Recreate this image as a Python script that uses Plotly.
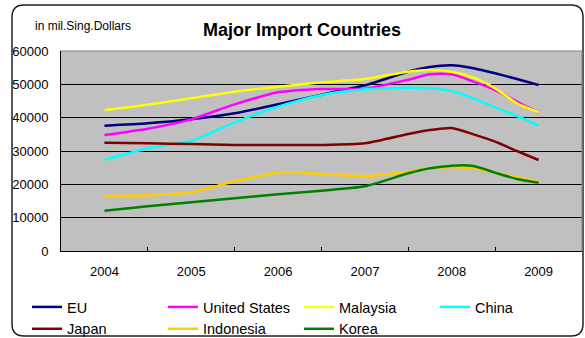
import plotly.graph_objects as go

# ---- data ----
periods = [2004, 2004.5, 2005, 2005.5, 2006, 2006.5, 2007, 2007.5, 2007.75,
           2008, 2008.25, 2008.5, 2008.75, 2009]
year_labels = ["2004", "2005", "2006", "2007", "2008", "2009"]
year_ticks = [2004, 2005, 2006, 2007, 2008, 2009]

eu = [37600, 38300, 39500, 41300, 44000, 46900, 49700, 53800, 55200,
      55700, 54800, 53300, 51600, 49800]
united_states = [34800, 36700, 39500, 44000, 47600, 48600, 48700, 51400, 53000,
                 53000, 50800, 48300, 44800, 41500]
malaysia = [42300, 43900, 45800, 47800, 49300, 50600, 51600, 53800, 54300,
            53800, 52000, 48800, 44300, 41600]
china = [27300, 30800, 33000, 38600, 43300, 46800, 48500, 49000, 48800,
         48000, 45800, 43100, 40500, 37600]
japan = [32500, 32300, 32100, 31800, 31800, 31800, 32300, 35100, 36300,
         36900, 35000, 32800, 30000, 27300]
indonesia = [16500, 16700, 17600, 20900, 23500, 23100, 22500, 23800, 24800,
             25100, 24800, 23500, 22100, 20800]
korea = [12100, 13400, 14600, 15800, 17000, 18100, 19400, 23300, 24800,
         25600, 25500, 23500, 21600, 20500]

series = [
    ("EU", eu, "#000080"),
    ("United States", united_states, "#FF00FF"),
    ("Malaysia", malaysia, "#FFFF00"),
    ("China", china, "#00FFFF"),
    ("Japan", japan, "#800000"),
    ("Indonesia", indonesia, "#FFCC00"),
    ("Korea", korea, "#008000"),
]

FONT = "Arial, Liberation Sans, sans-serif"
W, H = 585, 338
ML, MR, MT, MB = 61, 3, 51, 87
PW, PH = W - ML - MR, H - MT - MB


def px_x(p):
    return (p - ML) / PW


def px_y(p):
    return (H - MB - p) / PH


fig = go.Figure()
for name, vals, col in series:
    fig.add_trace(go.Scatter(
        x=periods, y=vals, name=name, mode="lines",
        line=dict(color=col, width=2.5, shape="spline", smoothing=0.6),
    ))

# rounded outer chart border
l, r, t, b, rad = 12, 583, 5, 336, 12
path = (f"M {px_x(l)},{px_y(t + rad)} "
        f"Q {px_x(l)},{px_y(t)} {px_x(l + rad)},{px_y(t)} "
        f"L {px_x(r - rad)},{px_y(t)} "
        f"Q {px_x(r)},{px_y(t)} {px_x(r)},{px_y(t + rad)} "
        f"L {px_x(r)},{px_y(b - rad)} "
        f"Q {px_x(r)},{px_y(b)} {px_x(r - rad)},{px_y(b)} "
        f"L {px_x(l + rad)},{px_y(b)} "
        f"Q {px_x(l)},{px_y(b)} {px_x(l)},{px_y(b - rad)} Z")

fig.update_layout(
    width=W, height=H,
    margin=dict(l=ML, r=MR, t=MT, b=MB, autoexpand=False),
    paper_bgcolor="white",
    plot_bgcolor="#C0C0C0",
    font=dict(family=FONT, size=13, color="black"),
    title=dict(text="<b>Major Import Countries</b>",
               font=dict(family=FONT, size=18, color="black"),
               x=px_x(302), xref="paper", xanchor="center",
               y=1 - 30 / H, yref="container", yanchor="middle"),
    xaxis=dict(range=[2003.5, 2009.5], tickvals=year_ticks, ticktext=year_labels,
               showgrid=False, zeroline=False, showline=True,
               linecolor="black", linewidth=1, ticks="",
               ticklabelstandoff=8,
               tickfont=dict(family=FONT, size=13),
               minor=dict(tickvals=[2004.5, 2005.5, 2006.5, 2007.5, 2008.5],
                          ticks="inside", ticklen=4, tickcolor="black",
                          tickwidth=1, showgrid=False)),
    yaxis=dict(range=[0, 60000], dtick=10000, tickformat="d",
               showgrid=True, gridcolor="#000000", gridwidth=1,
               zeroline=False, showline=True, linecolor="black", linewidth=1,
               ticks="", ticklabelstandoff=9,
               tickfont=dict(family=FONT, size=13)),
    legend=dict(orientation="h", xref="paper", yref="paper",
                x=px_x(27), xanchor="left", y=px_y(291), yanchor="top",
                entrywidth=91, entrywidthmode="pixels",
                bgcolor="rgba(0,0,0,0)", borderwidth=0,
                font=dict(family=FONT, size=14.5), tracegroupgap=0),
    shapes=[
        dict(type="path", xref="paper", yref="paper", path=path,
             line=dict(color="#222222", width=1.5), layer="above"),
        dict(type="path", xref="paper", yref="paper",
             path="M 0,1 L 1,1 L 1,0",
             line=dict(color="#808080", width=1), layer="above"),
    ],
    annotations=[
        dict(text="in mil.Sing.Dollars", xref="paper", yref="paper",
             x=px_x(33), y=px_y(26.5), xanchor="left", yanchor="middle",
             showarrow=False, font=dict(family=FONT, size=12, color="black")),
    ],
    showlegend=True,
)

fig.write_html("out.html",
               config={"displayModeBar": False},
               post_script="document.body.style.margin='0';"
                           "document.body.style.overflow='hidden';")
